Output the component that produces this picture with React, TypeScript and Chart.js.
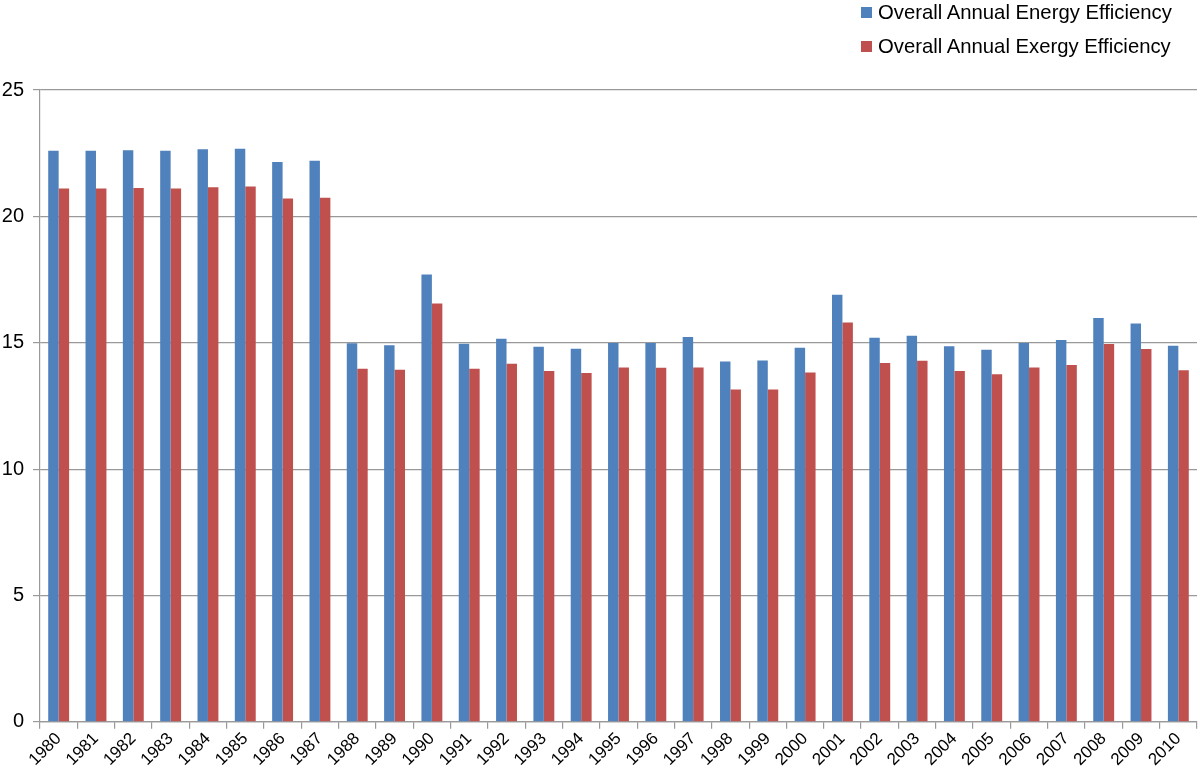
import { useEffect, useRef } from "react";
import { Chart, registerables } from "chart.js";

Chart.register(...registerables);

const years = [
  "1980", "1981", "1982", "1983", "1984", "1985", "1986", "1987", "1988", "1989",
  "1990", "1991", "1992", "1993", "1994", "1995", "1996", "1997", "1998", "1999",
  "2000", "2001", "2002", "2003", "2004", "2005", "2006", "2007", "2008", "2009", "2010",
];

const energyEfficiency = [
  22.6, 22.6, 22.62, 22.6, 22.66, 22.68, 22.15, 22.2, 14.98, 14.9,
  17.7, 14.96, 15.16, 14.84, 14.76, 14.99, 14.99, 15.23, 14.26, 14.3,
  14.8, 16.9, 15.2, 15.28, 14.86, 14.72, 14.99, 15.11, 15.98, 15.76, 14.88,
];

const exergyEfficiency = [
  21.1, 21.1, 21.12, 21.1, 21.15, 21.18, 20.71, 20.74, 13.97, 13.93,
  16.55, 13.97, 14.17, 13.88, 13.8, 14.02, 14.01, 14.02, 13.15, 13.15,
  13.82, 15.8, 14.2, 14.29, 13.88, 13.75, 14.02, 14.12, 14.95, 14.75, 13.91,
];

const seriesNames = ["Overall Annual Energy Efficiency", "Overall Annual Exergy Efficiency"];
const seriesColors = ["#4f81bd", "#c0504d"];

const yTicks = [0, 5, 10, 15, 20, 25];

const FONT = "'Liberation Sans', Arial, Helvetica, sans-serif";

export default function App() {
  const canvasRef = useRef<HTMLCanvasElement>(null);
  const chartRef = useRef<Chart | null>(null);

  useEffect(() => {
    document.body.style.margin = "0";
    if (!canvasRef.current) return;
    if (chartRef.current) chartRef.current.destroy();

    const ctx = canvasRef.current.getContext("2d");
    if (!ctx) return;

    chartRef.current = new Chart(ctx, {
      type: "bar",
      data: {
        labels: years,
        datasets: [
          {
            label: seriesNames[0],
            data: energyEfficiency,
            backgroundColor: seriesColors[0],
            categoryPercentage: 0.56,
            barPercentage: 1,
          },
          {
            label: seriesNames[1],
            data: exergyEfficiency,
            backgroundColor: seriesColors[1],
            categoryPercentage: 0.56,
            barPercentage: 1,
          },
        ],
      },
      options: {
        responsive: false,
        animation: false,
        layout: { padding: { top: 90, right: 3, left: 1, bottom: 6 } },
        plugins: {
          legend: { display: false },
          tooltip: { enabled: false },
        },
        scales: {
          x: {
            afterFit: (scale) => {
              // rotated first label would otherwise push the plot to the right
              scale.paddingLeft = 0;
            },
            grid: {
              drawOnChartArea: false,
              drawTicks: true,
              tickLength: 7,
              color: "#999",
              lineWidth: 1.2,
            },
            border: { display: true, color: "#999", width: 1.2 },
            ticks: {
              color: "#000",
              font: { family: FONT, size: 17 },
              minRotation: 45,
              maxRotation: 45,
              autoSkip: false,
              padding: 0,
            },
          },
          y: {
            min: 0,
            max: 25,
            afterBuildTicks: (axis) => {
              axis.ticks = yTicks.map((v) => ({ value: v }));
            },
            afterFit: (scale) => {
              scale.width = 39;
            },
            grid: {
              color: "#999",
              lineWidth: 1.2,
              drawTicks: true,
              tickLength: 7,
            },
            border: { display: true, color: "#999", width: 1.2 },
            ticks: {
              color: "#000",
              font: { family: FONT, size: 20 },
              padding: 9,
            },
          },
        },
      },
    });

    return () => {
      if (chartRef.current) {
        chartRef.current.destroy();
        chartRef.current = null;
      }
    };
  }, []);

  return (
    <div style={{ position: "relative", width: 1200, height: 776 }}>
      <canvas ref={canvasRef} width={1200} height={776} style={{ width: 1200, height: 776 }} />
      <div
        style={{
          position: "absolute",
          top: 0,
          left: 861,
          fontFamily: FONT,
          fontSize: 20.3,
          color: "#000",
        }}
      >
        {seriesNames.map((name, i) => (
          <div
            key={name}
            style={{ display: "flex", alignItems: "center", height: 34, marginTop: i === 0 ? -5 : 0 }}
          >
            <span
              style={{
                display: "inline-block",
                width: 11,
                height: 11,
                background: seriesColors[i],
                marginRight: 6,
              }}
            />
            <span>{name}</span>
          </div>
        ))}
      </div>
    </div>
  );
}
